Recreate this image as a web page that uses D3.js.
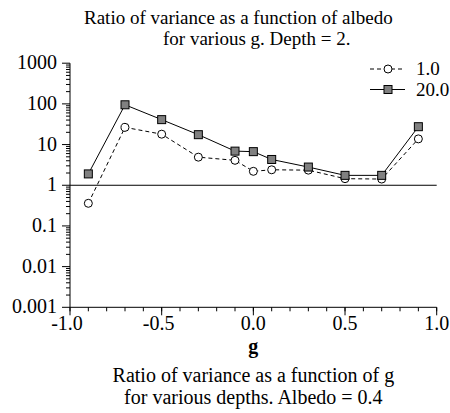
<!DOCTYPE html>
<html lang="en">
<head>
    <meta charset="UTF-8">
    <title>Ratio of variance</title>
    <script src="https://d3js.org/d3.v7.min.js"></script>
    <style>
        body { margin: 0; background: #fff; }
        text { font-family: "Liberation Serif", "Times New Roman", serif; font-size: 20px; fill: #000; }
        .small { font-size: 19px; }
    </style>
</head>
<body>
    <svg id="chart"></svg>
    <script>
        // data
        const gValues = [-0.9, -0.7, -0.5, -0.3, -0.1, 0.0, 0.1, 0.3, 0.5, 0.7, 0.9];
        const depth1 = [0.36, 26.5, 18, 4.9, 4.1, 2.2, 2.4, 2.35, 1.45, 1.42, 13.8];
        const depth20 = [1.9, 95, 41, 17.5, 6.9, 6.7, 4.3, 2.8, 1.75, 1.75, 27.5];
        const seriesNames = ["1.0", "20.0"];
        const xTicks = [-1.0, -0.5, 0.0, 0.5, 1.0];
        const yTicks = [0.001, 0.01, 0.1, 1, 10, 100, 1000];

        const width = 450, height = 413;
        const svg = d3.select("#chart")
            .attr("width", width)
            .attr("height", height);

        const x = d3.scaleLinear().domain([-1, 1]).range([70, 436.7]);
        const y = d3.scaleLog().domain([0.001, 1000]).range([307.3, 63.2]);

        // titles
        svg.append("text").attr("class", "small").attr("x", 84).attr("y", 24)
            .text("Ratio of variance as a function of albedo");
        svg.append("text").attr("class", "small").attr("x", 163).attr("y", 45)
            .text("for various g. Depth = 2.");

        // y axis with log minor ticks
        const yAxis = svg.append("g");
        yAxis.append("line")
            .attr("x1", x(-1)).attr("x2", x(-1))
            .attr("y1", y(1000)).attr("y2", y(0.001))
            .attr("stroke", "#000");
        const minorY = [];
        for (let e = -3; e < 3; e++) {
            for (let m = 2; m <= 9; m++) minorY.push(m * Math.pow(10, e));
        }
        yAxis.selectAll(".ymin").data(minorY).join("line")
            .attr("x1", x(-1) - 4).attr("x2", x(-1))
            .attr("y1", d => y(d)).attr("y2", d => y(d))
            .attr("stroke", "#000");
        yAxis.selectAll(".ymaj").data(yTicks).join("line")
            .attr("x1", x(-1) - 8).attr("x2", x(-1))
            .attr("y1", d => y(d)).attr("y2", d => y(d))
            .attr("stroke", "#000");
        yAxis.selectAll("text").data(yTicks).join("text")
            .attr("x", x(-1) - 13)
            .attr("y", d => y(d) + 6)
            .attr("text-anchor", "end")
            .text(d => String(d));

        // x axis
        const xAxis = svg.append("g");
        xAxis.append("line")
            .attr("x1", x(-1)).attr("x2", x(1))
            .attr("y1", y(0.001)).attr("y2", y(0.001))
            .attr("stroke", "#000");
        xAxis.selectAll(".xmin").data(d3.range(-10, 11).map(i => i / 10)).join("line")
            .attr("x1", d => x(d)).attr("x2", d => x(d))
            .attr("y1", y(0.001)).attr("y2", y(0.001) + 4)
            .attr("stroke", "#000");
        xAxis.selectAll(".xmaj").data(xTicks).join("line")
            .attr("x1", d => x(d)).attr("x2", d => x(d))
            .attr("y1", y(0.001)).attr("y2", y(0.001) + 8)
            .attr("stroke", "#000");
        xAxis.selectAll("text").data(xTicks).join("text")
            .attr("x", d => x(d) - (d < 0 ? 3 : 0))
            .attr("y", 330)
            .attr("text-anchor", "middle")
            .text(d => d.toFixed(1));

        svg.append("text")
            .attr("x", (x(-1) + x(1)) / 2).attr("y", 353)
            .attr("text-anchor", "middle")
            .attr("font-weight", "bold")
            .text("g");

        // reference line at 1
        svg.append("line")
            .attr("x1", x(-1)).attr("x2", x(1))
            .attr("y1", y(1)).attr("y2", y(1))
            .attr("stroke", "#000");

        const line = d3.line().x((d, i) => x(gValues[i])).y(d => y(d));

        svg.append("path").datum(depth1)
            .attr("d", line).attr("fill", "none")
            .attr("stroke", "#000").attr("stroke-dasharray", "4,3");
        svg.append("path").datum(depth20)
            .attr("d", line).attr("fill", "none")
            .attr("stroke", "#000");

        svg.selectAll(".c1").data(depth1).join("circle")
            .attr("cx", (d, i) => x(gValues[i])).attr("cy", d => y(d))
            .attr("r", 4).attr("fill", "#fff").attr("stroke", "#000");
        svg.selectAll(".s20").data(depth20).join("rect")
            .attr("x", (d, i) => x(gValues[i]) - 4).attr("y", d => y(d) - 4)
            .attr("width", 8).attr("height", 8)
            .attr("fill", "#808080").attr("stroke", "#000");

        // legend
        const legend = svg.append("g");
        const rows = [69, 89.5];
        legend.append("line").attr("x1", 370).attr("x2", 405)
            .attr("y1", rows[0]).attr("y2", rows[0])
            .attr("stroke", "#000").attr("stroke-dasharray", "4,3");
        legend.append("circle").attr("cx", 388).attr("cy", rows[0]).attr("r", 4)
            .attr("fill", "#fff").attr("stroke", "#000");
        legend.append("line").attr("x1", 370).attr("x2", 405)
            .attr("y1", rows[1]).attr("y2", rows[1]).attr("stroke", "#000");
        legend.append("rect").attr("x", 384).attr("y", rows[1] - 4)
            .attr("width", 8).attr("height", 8)
            .attr("fill", "#808080").attr("stroke", "#000");
        legend.selectAll("text").data(seriesNames).join("text")
            .attr("class", "small")
            .attr("x", 416).attr("y", (d, i) => rows[i] + 6)
            .text(d => d);

        // caption
        svg.append("text")
            .attr("x", (x(-1) + x(1)) / 2).attr("y", 382)
            .attr("text-anchor", "middle")
            .text("Ratio of variance as a function of g");
        svg.append("text")
            .attr("x", (x(-1) + x(1)) / 2).attr("y", 404)
            .attr("text-anchor", "middle")
            .text("for various depths. Albedo = 0.4");
    </script>
</body>
</html>
